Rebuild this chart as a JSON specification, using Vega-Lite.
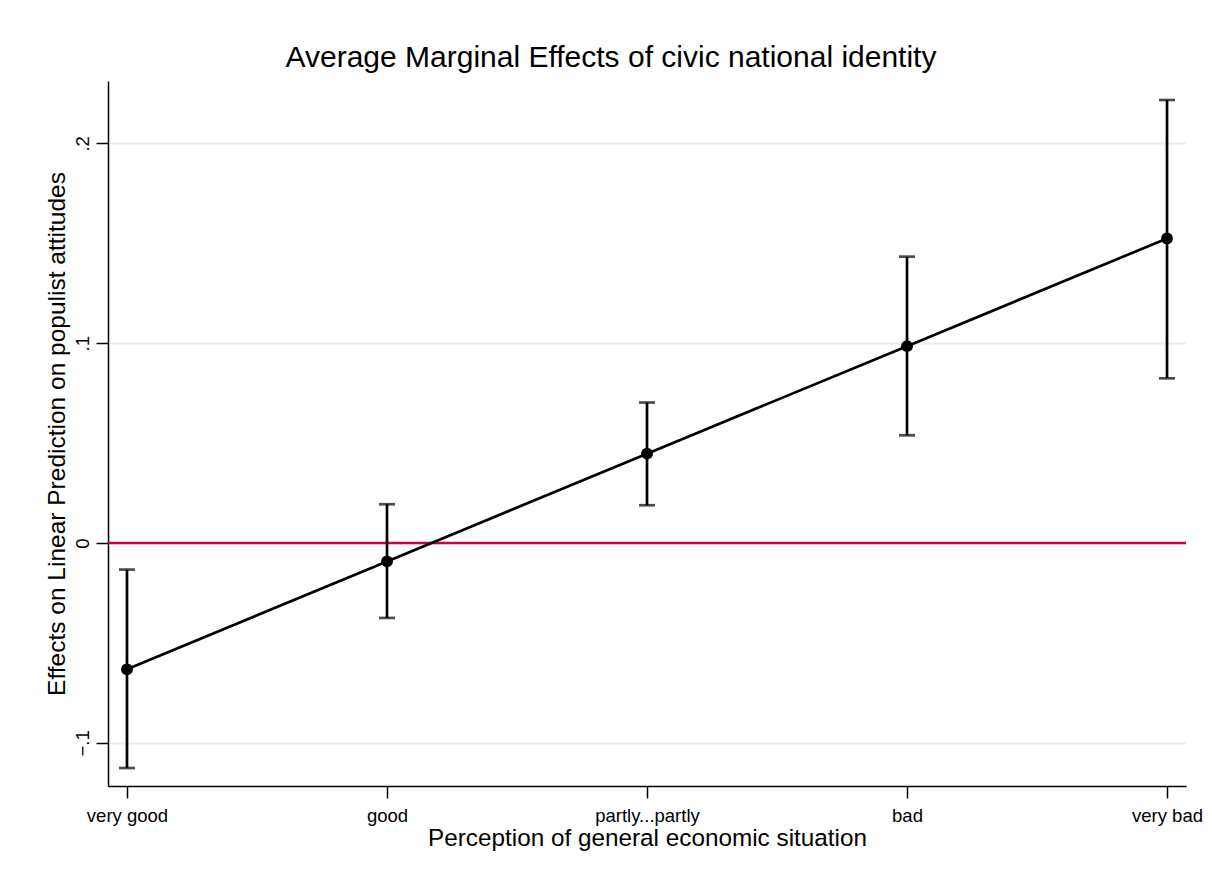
{
  "$schema": "https://vega.github.io/schema/vega-lite/v6.json",
  "autosize": {"type": "none"},
  "padding": {"left": 108, "top": 81, "right": 26, "bottom": 97},
  "width": 1078,
  "height": 705,
  "background": "white",
  "title": {
    "text": "Average Marginal Effects of civic national identity",
    "font": "Liberation Sans",
    "fontSize": 30,
    "fontWeight": "normal",
    "color": "black",
    "anchor": "middle",
    "dx": -36,
    "offset": 8
  },
  "data": {
    "values": [
      {"cat": "very good", "b": -0.0632, "lo": -0.1126, "hi": -0.0133},
      {"cat": "good", "b": -0.0092, "lo": -0.0375, "hi": 0.0194},
      {"cat": "partly...partly", "b": 0.0447, "lo": 0.0189, "hi": 0.0703},
      {"cat": "bad", "b": 0.0985, "lo": 0.0539, "hi": 0.1433},
      {"cat": "very bad", "b": 0.1524, "lo": 0.0824, "hi": 0.2217}
    ]
  },
  "encoding": {
    "x": {
      "field": "cat",
      "type": "ordinal",
      "sort": null,
      "scale": {"type": "point", "padding": 0.073},
      "axis": {
        "title": "Perception of general economic situation",
        "labelAngle": 0,
        "labelFont": "Liberation Sans",
        "labelFontSize": 18.5,
        "labelColor": "black",
        "labelPadding": 8,
        "titleFont": "Liberation Sans",
        "titleFontSize": 24.3,
        "titleFontWeight": "normal",
        "titleColor": "black",
        "titlePadding": 2,
        "tickSize": 12,
        "tickColor": "black",
        "tickWidth": 1.5,
        "domainColor": "black",
        "domainWidth": 1.5,
        "grid": false
      }
    }
  },
  "layer": [
    {
      "mark": {"type": "rule", "color": "#c3073f", "strokeWidth": 2.5},
      "data": {"values": [{"z": 0}]},
      "encoding": {
        "y": {"field": "z", "type": "quantitative"},
        "x": null
      }
    },
    {
      "mark": {
        "type": "errorbar",
        "color": "black",
        "thickness": 2.7,
        "ticks": {"size": 16, "thickness": 2.7, "color": "black"}
      },
      "encoding": {
        "y": {
          "field": "lo",
          "type": "quantitative",
          "scale": {"domain": [-0.1216, 0.2312], "nice": false, "zero": false},
          "axis": {
            "title": "Effects on Linear Prediction on populist attitudes",
            "values": [-0.1, 0, 0.1, 0.2],
            "labelExpr": "datum.value == 0 ? '0' : replace(format(datum.value, '.1f'), '0.', '.')",
            "labelAngle": -90,
            "labelAlign": "center",
            "labelBaseline": "alphabetic",
            "labelFont": "Liberation Sans",
            "labelFontSize": 18.5,
            "labelColor": "black",
            "labelPadding": 8,
            "titleFont": "Liberation Sans",
            "titleFontSize": 24.5,
            "titleFontWeight": "normal",
            "titleColor": "black",
            "titlePadding": 4,
            "tickSize": 12,
            "tickColor": "black",
            "tickWidth": 1.5,
            "domainColor": "black",
            "domainWidth": 1.5,
            "grid": true,
            "gridColor": "#e6eff0",
            "gridWidth": 2
          }
        },
        "y2": {"field": "hi"}
      }
    },
    {
      "mark": {"type": "line", "color": "black", "strokeWidth": 2.7},
      "encoding": {"y": {"field": "b", "type": "quantitative"}}
    },
    {
      "mark": {"type": "circle", "color": "black", "opacity": 1, "size": 140},
      "encoding": {"y": {"field": "b", "type": "quantitative"}}
    }
  ],
  "config": {
    "view": {"stroke": null}
  }
}
